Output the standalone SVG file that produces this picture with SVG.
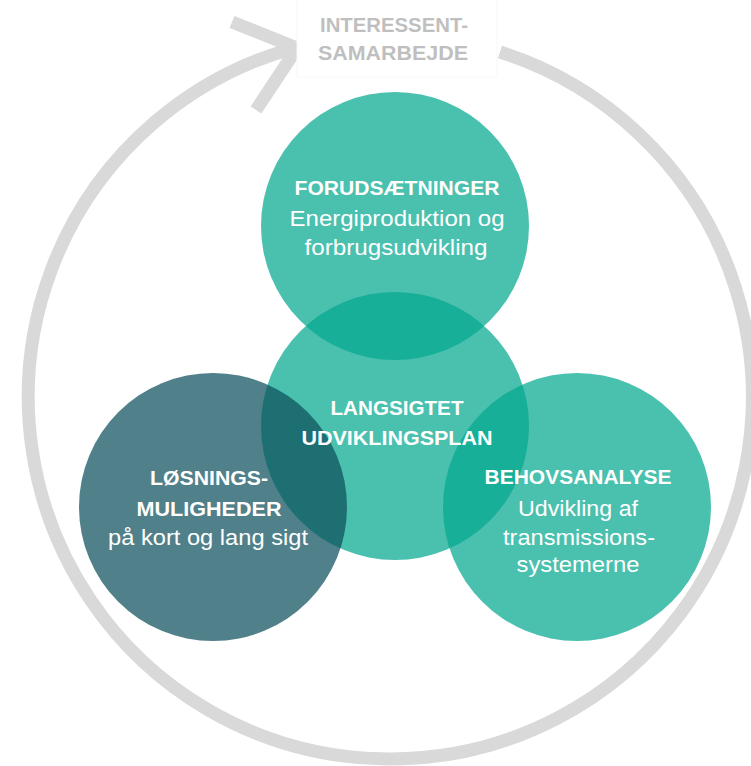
<svg xmlns="http://www.w3.org/2000/svg" width="751" height="766" viewBox="0 0 751 766">
<style>
.ring{fill:none;stroke:#d9d9d9;stroke-width:13}
.teal{fill:#04a88f;fill-opacity:0.72}
.dark{fill:#0c4f5b;fill-opacity:0.72}
.t{font-family:"Liberation Sans",Arial,sans-serif;fill:#ffffff;text-anchor:middle;font-size:22px}
.b{font-weight:bold;font-size:21px}
.lbl{font-family:"Liberation Sans",Arial,sans-serif;fill:#bfbfbf;font-weight:bold;font-size:21px;text-anchor:middle}
</style>
<rect width="751" height="766" fill="#ffffff"/>
<g id="connectors">
<path class="ring" d="M 500 52 A 362 362 0 1 1 297 47.2"/>
<polyline class="ring" points="232,22 297,48 256,110" stroke-linejoin="miter"/>
</g>
<g id="interessent-samarbejde">
<rect x="297" y="-2" width="200" height="79" fill="#ffffff" stroke="#f7f7f7" stroke-width="1"/>
<text class="lbl" x="394" y="32" textLength="148" lengthAdjust="spacingAndGlyphs">INTERESSENT-</text>
<text class="lbl" x="393" y="60" textLength="150" lengthAdjust="spacingAndGlyphs">SAMARBEJDE</text>
</g>
<g id="forudsaetninger"><circle class="teal" cx="395" cy="226" r="134"/></g>
<g id="langsigtet"><circle class="teal" cx="395" cy="426" r="134"/></g>
<g id="loesningsmuligheder"><circle class="dark" cx="213" cy="507" r="134"/></g>
<g id="behovsanalyse"><circle class="teal" cx="577" cy="507" r="134"/></g>
<g id="forudsaetninger-label">
<text class="t b" x="397" y="195" textLength="205" lengthAdjust="spacingAndGlyphs">FORUDSÆTNINGER</text>
<text class="t" x="397" y="226" textLength="215" lengthAdjust="spacingAndGlyphs">Energiproduktion og</text>
<text class="t" x="396" y="255" textLength="183" lengthAdjust="spacingAndGlyphs">forbrugsudvikling</text>
</g>
<g id="langsigtet-label">
<text class="t b" x="397" y="415" textLength="133" lengthAdjust="spacingAndGlyphs">LANGSIGTET</text>
<text class="t b" x="397" y="445" textLength="191" lengthAdjust="spacingAndGlyphs">UDVIKLINGSPLAN</text>
</g>
<g id="loesningsmuligheder-label">
<text class="t b" x="209" y="485" textLength="118" lengthAdjust="spacingAndGlyphs">LØSNINGS-</text>
<text class="t b" x="209" y="516" textLength="145" lengthAdjust="spacingAndGlyphs">MULIGHEDER</text>
<text class="t" x="208" y="545" textLength="200" lengthAdjust="spacingAndGlyphs">på kort og lang sigt</text>
</g>
<g id="behovsanalyse-label">
<text class="t b" x="578" y="484" textLength="187" lengthAdjust="spacingAndGlyphs">BEHOVSANALYSE</text>
<text class="t" x="578" y="516" textLength="120" lengthAdjust="spacingAndGlyphs">Udvikling af</text>
<text class="t" x="579" y="545" textLength="152" lengthAdjust="spacingAndGlyphs">transmissions-</text>
<text class="t" x="578" y="572" textLength="123" lengthAdjust="spacingAndGlyphs">systemerne</text>
</g>
</svg>
